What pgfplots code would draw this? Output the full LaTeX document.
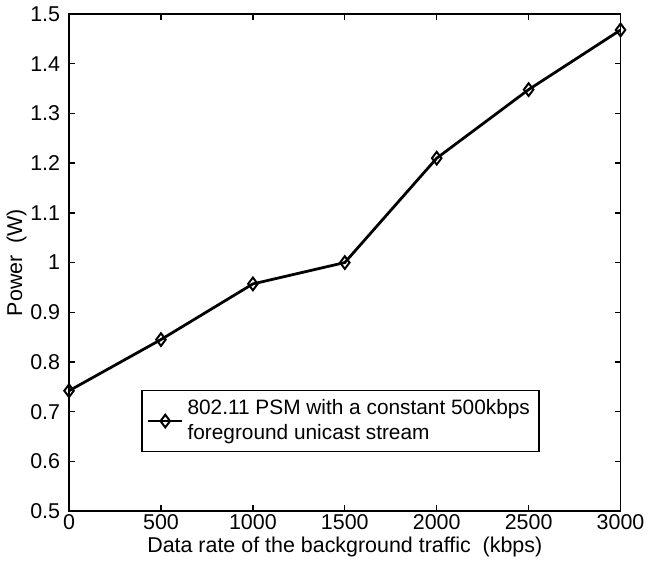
\documentclass[border=0pt]{standalone}
\usepackage{fontspec}
\setmainfont{Liberation Sans}
\usepackage{pgfplots}
\pgfplotsset{compat=1.18}

\begin{document}
\begin{tikzpicture}
\begin{axis}[
    scale only axis,
    width=278pt, height=250.5pt,
    xmin=0, xmax=3000,
    ymin=0.5, ymax=1.5,
    xtick={0,500,...,3000},
    ytick={0.5,0.6,...,1.51},
    tick align=inside,
    tick pos=both,
    major tick length=3pt,
    axis line style={line width=0.8pt},
    tick style={line width=0.7pt, black},
    /pgf/number format/assume math mode=true,
    /pgf/number format/1000 sep={},
    ticklabel style={font=\fontsize{10.8}{12}\selectfont},
    label style={font=\fontsize{10.8}{12}\selectfont},
    xlabel={Data rate of the background traffic\ \ (kbps)},
    ylabel={Power\ \ (W)},
    xlabel style={yshift=3pt},
    ylabel style={yshift=-5pt},
    xticklabel style={yshift=2pt},
    yticklabel style={xshift=-1pt},
    legend style={at={(rel axis cs:0.131,0.244)}, anchor=north west,
        font=\fontsize{10.5}{12.5}\selectfont, draw=black, line width=0.7pt,
        inner sep=2.5pt},
    legend cell align=left,
]
\addplot[black, line width=1.4pt, mark=diamond, mark size=3.2pt,
    mark options={solid, line width=1pt, fill=white}]
coordinates {
    (0,0.742) (500,0.845) (1000,0.957) (1500,1.000)
    (2000,1.210) (2500,1.348) (3000,1.468)
};
\addlegendentry{\shortstack[l]{802.11 PSM with a constant 500kbps\\foreground unicast stream}}
\path (rel axis cs:0,1) ++(0,9.5pt) coordinate (t);
\path (rel axis cs:1,0) ++(8pt,0) coordinate (r);
\path (t) -- (r);
\end{axis}
\end{tikzpicture}
\end{document}
